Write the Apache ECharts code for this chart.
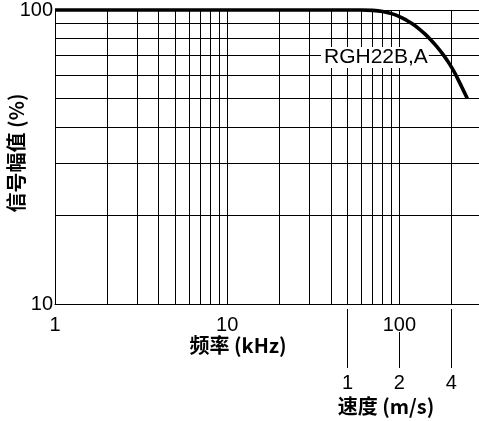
<!DOCTYPE html>
<html><head><meta charset="utf-8">
<script src="https://cdn.jsdelivr.net/npm/echarts@6/dist/echarts.min.js"></script>
<style>html,body{margin:0;padding:0;background:#fff}#c{width:479px;height:421px}</style>
</head><body><div id="c"></div>
<script>
// Signal amplitude vs. frequency
const freqKHz      = [1, 10, 30, 50, 60, 70, 80, 90, 100, 110, 120, 130, 140, 150, 165, 180, 195, 210, 230, 248];
const amplitudePct = [100, 100, 100, 100, 100, 99.7, 98.8, 97.2, 95.0, 92.3, 89.4, 86.3, 83.1, 79.9, 75.1, 70.4, 65.7, 61.0, 54.8, 50];
const freqTicks = [1, 10, 100];
const ampTicks = [10, 100];
const freqGrid = [2, 3, 4, 5, 6, 7, 8, 9, 10, 20, 30, 40, 50, 60, 70, 80, 90, 100, 200];
const ampGrid = [20, 30, 40, 50, 60, 70, 80, 90, 100];
// secondary scale: scan speed (m/s) at the matching frequency (kHz)
const speedAtFreq = [50, 100, 200];
const speedLabels = ['1', '2', '4'];
const curveName = 'RGH22B,A';

const FONT = '"Liberation Sans", Arial, Helvetica, sans-serif';
const CJK = '"Noto Sans CJK SC", "Liberation Sans", sans-serif';
const FMIN = 1, FMAX = 290;

const chart = echarts.init(document.getElementById('c'), null, {renderer: 'canvas'});

function speedLabel(v) {
  for (let i = 0; i < speedAtFreq.length; i++) {
    if (Math.abs(v - speedAtFreq[i]) / speedAtFreq[i] < 1e-6) return speedLabels[i];
  }
  return '';
}

const baseX = {
  type: 'log', logBase: 10, min: FMIN, max: FMAX, gridIndex: 0, position: 'bottom',
  splitLine: {show: false}, minorTick: {show: false}
};

chart.setOption({
  animation: false,
  grid: {left: 55, top: 7, right: 0, bottom: 117, containLabel: false},
  xAxis: [
    Object.assign({}, baseX, {
      axisLine: {show: true, lineStyle: {color: '#000', width: 1}},
      axisTick: {show: false},
      axisLabel: {customValues: freqTicks, color: '#000', fontSize: 20, fontFamily: FONT, margin: 11,
        formatter: v => String(Math.round(v))}
    }),
    Object.assign({}, baseX, {
      offset: 64,
      axisLine: {show: false},
      axisTick: {show: true, inside: true, length: 59, customValues: [speedAtFreq[0], speedAtFreq[2]],
        lineStyle: {color: '#000', width: 1}},
      axisLabel: {customValues: speedAtFreq, color: '#000', fontSize: 20, fontFamily: FONT, margin: 5,
        formatter: speedLabel}
    }),
    Object.assign({}, baseX, {
      offset: 64,
      axisLine: {show: false},
      axisTick: {show: true, inside: true, length: 36, customValues: [speedAtFreq[1]],
        lineStyle: {color: '#000', width: 1}},
      axisLabel: {show: false}
    })
  ],
  yAxis: {
    type: 'log', logBase: 10, min: 10, max: 100,
    splitLine: {show: false},
    axisLine: {show: true, lineStyle: {color: '#000', width: 1}},
    axisTick: {show: false},
    axisLabel: {customValues: ampTicks, color: '#000', fontSize: 20, fontFamily: FONT, margin: 2,
      padding: [5, 0, 0, 0], formatter: v => String(Math.round(v))}
  },
  series: [
    {
      type: 'line', data: [], z: 1, silent: true,
      markLine: {
        silent: true, symbol: ['none', 'none'], animation: false,
        label: {show: false},
        lineStyle: {color: '#000', width: 1, type: 'solid'},
        emphasis: {disabled: true},
        data: freqGrid.map(v => ({xAxis: v})).concat(ampGrid.map(v => ({yAxis: v})))
      }
    },
    {
      type: 'line', name: curveName, z: 3, clip: false,
      data: freqKHz.map((f, i) => [f, amplitudePct[i]]),
      showSymbol: false, smooth: 0.4,
      lineStyle: {color: '#000', width: 3.6}
    }
  ],
  graphic: [
    {type: 'text', left: 321, top: 47, z: 10,
      style: {text: curveName, font: '21px ' + FONT, fill: '#000', backgroundColor: '#fff', padding: [0, 1, 0, 3]}},
    {type: 'text', x: 238, y: 345, z: 10,
      style: {text: '频率 (kHz)', font: 'bold 20px ' + CJK, fill: '#000', align: 'center', verticalAlign: 'middle'}},
    {type: 'text', x: 386, y: 406, z: 10,
      style: {text: '速度 (m/s)', font: 'bold 20px ' + CJK, fill: '#000', align: 'center', verticalAlign: 'middle'}},
    {type: 'text', x: 16, y: 153, rotation: Math.PI / 2, z: 10,
      style: {text: '信号幅值 (%)', font: 'bold 20px ' + CJK, fill: '#000', align: 'center', verticalAlign: 'middle'}}
  ]
});
</script></body></html>
